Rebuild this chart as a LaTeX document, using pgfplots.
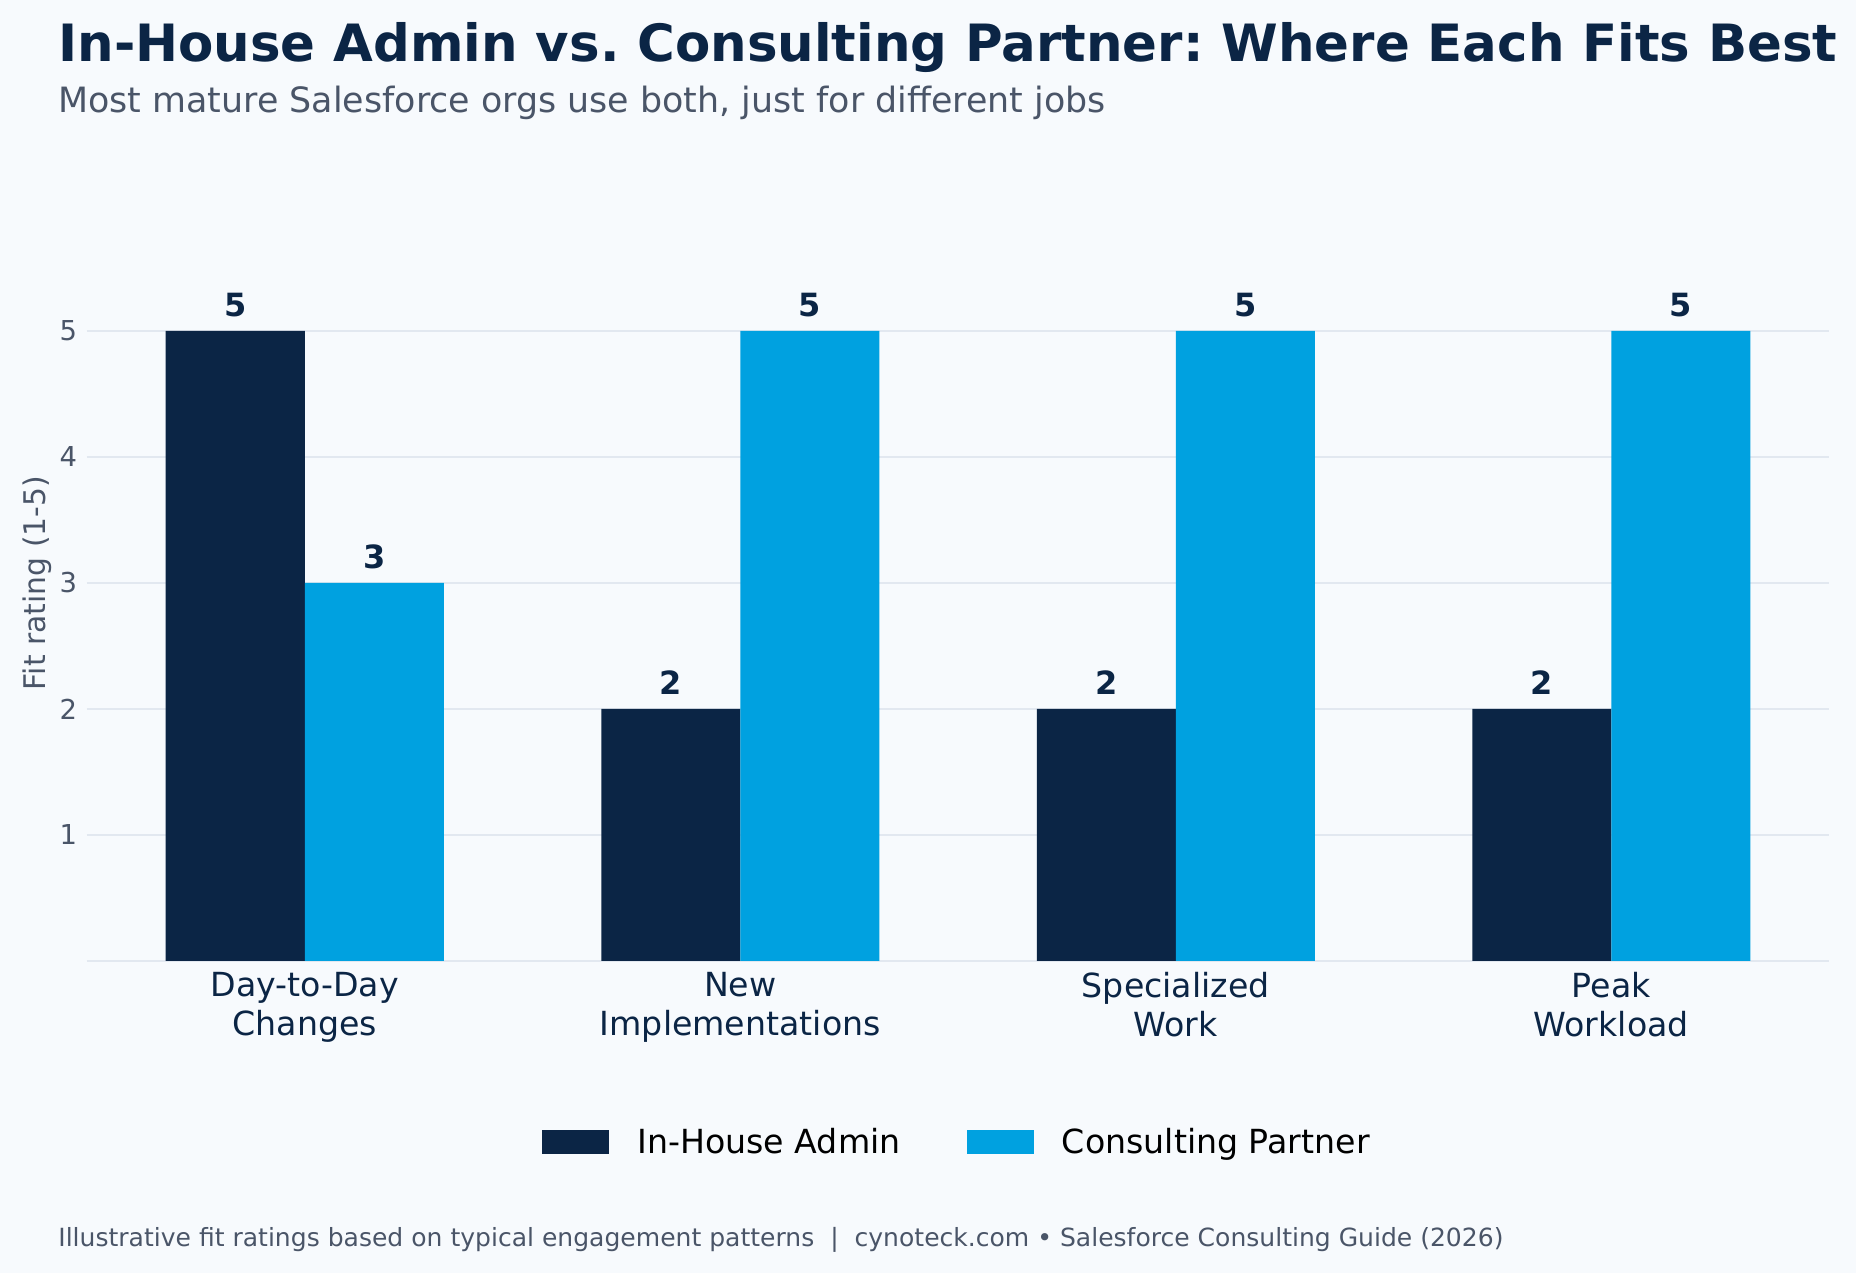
\documentclass[border=0pt]{standalone}
\usepackage{fontspec}
\setmainfont{DejaVu Sans}
\usepackage{pgfplots}
\pgfplotsset{compat=1.18}
\definecolor{bg}{HTML}{F7FAFD}
\definecolor{navy}{HTML}{0B2545}
\definecolor{sfblue}{HTML}{00A1E0}
\definecolor{subgray}{HTML}{4A5568}
\definecolor{gridc}{HTML}{E2E8F0}
\frenchspacing
\begin{document}
\begin{tikzpicture}
\fill[bg] (0,0) rectangle (928pt,636.5pt);
\node[anchor=base west, inner sep=0, text=navy, font=\fontsize{25.7}{30}\selectfont\bfseries] at (29pt,605.5pt) {In-House Admin vs. Consulting Partner: Where Each Fits Best};
\node[anchor=base west, inner sep=0, text=subgray, font=\fontsize{17.42}{20}\selectfont] at (29pt,580pt) {Most mature Salesforce orgs use both, just for different jobs};
\node[anchor=base west, inner sep=0, text=subgray, font=\fontsize{12.52}{15}\selectfont] at (29pt,13.25pt) {Illustrative fit ratings based on typical engagement patterns\ \ |\ \ cynoteck.com • Salesforce Consulting Guide (2026)};
\begin{axis}[
  at={(43.5pt,156pt)}, anchor=south west,
  width=871pt, height=378pt, scale only axis,
  ybar=0pt, bar width=69.5pt,
  xmin=-0.5, xmax=3.5, ymin=0, ymax=6,
  xtick={0,1,2,3},
  xticklabels={{Day-to-Day\\Changes},{New\\Implementations},{Specialized\\Work},{Peak\\Workload}},
  xticklabel style={align=center, text=navy, font=\fontsize{16.6}{19.4}\selectfont, yshift=-2pt},
  ytick={0,1,2,3,4,5}, yticklabels={,1,2,3,4,5},
  yticklabel style={text=subgray, font=\fontsize{13.7}{16}\selectfont, xshift=-1.4pt},
  ymajorgrids, grid style={gridc, line width=0.8pt},
  axis line style={draw=none},
  major tick length=0pt,
  ylabel={Fit rating (1-5)},
  ylabel style={at={(axis description cs:-0.0201,0.5)}, anchor=south, inner sep=0pt, text=subgray, font=\fontsize{14.9}{17}\selectfont},
  /pgf/number format/assume math mode=true,
  nodes near coords,
  nodes near coords style={anchor=base, yshift=7.3pt, font=\fontsize{16}{18}\selectfont\bfseries, text=navy},
  clip=false,
  legend style={at={(0.5,-0.2394)}, anchor=center, draw=none, fill=none, legend columns=2, font=\fontsize{16.6}{19}\selectfont, text=black, /tikz/every even column/.append style={column sep=31.2pt}, cells={anchor=west}},
  legend image code/.code={\fill[#1] (0pt,-6pt) rectangle (33.5pt,6pt); \path (45.5pt,0pt);},
]
\addplot[fill=navy, draw=none] coordinates {(0,5) (1,2) (2,2) (3,2)};
\addplot[fill=sfblue, draw=none] coordinates {(0,3) (1,5) (2,5) (3,5)};
\legend{In-House Admin, Consulting Partner}
\end{axis}
\end{tikzpicture}
\end{document}
